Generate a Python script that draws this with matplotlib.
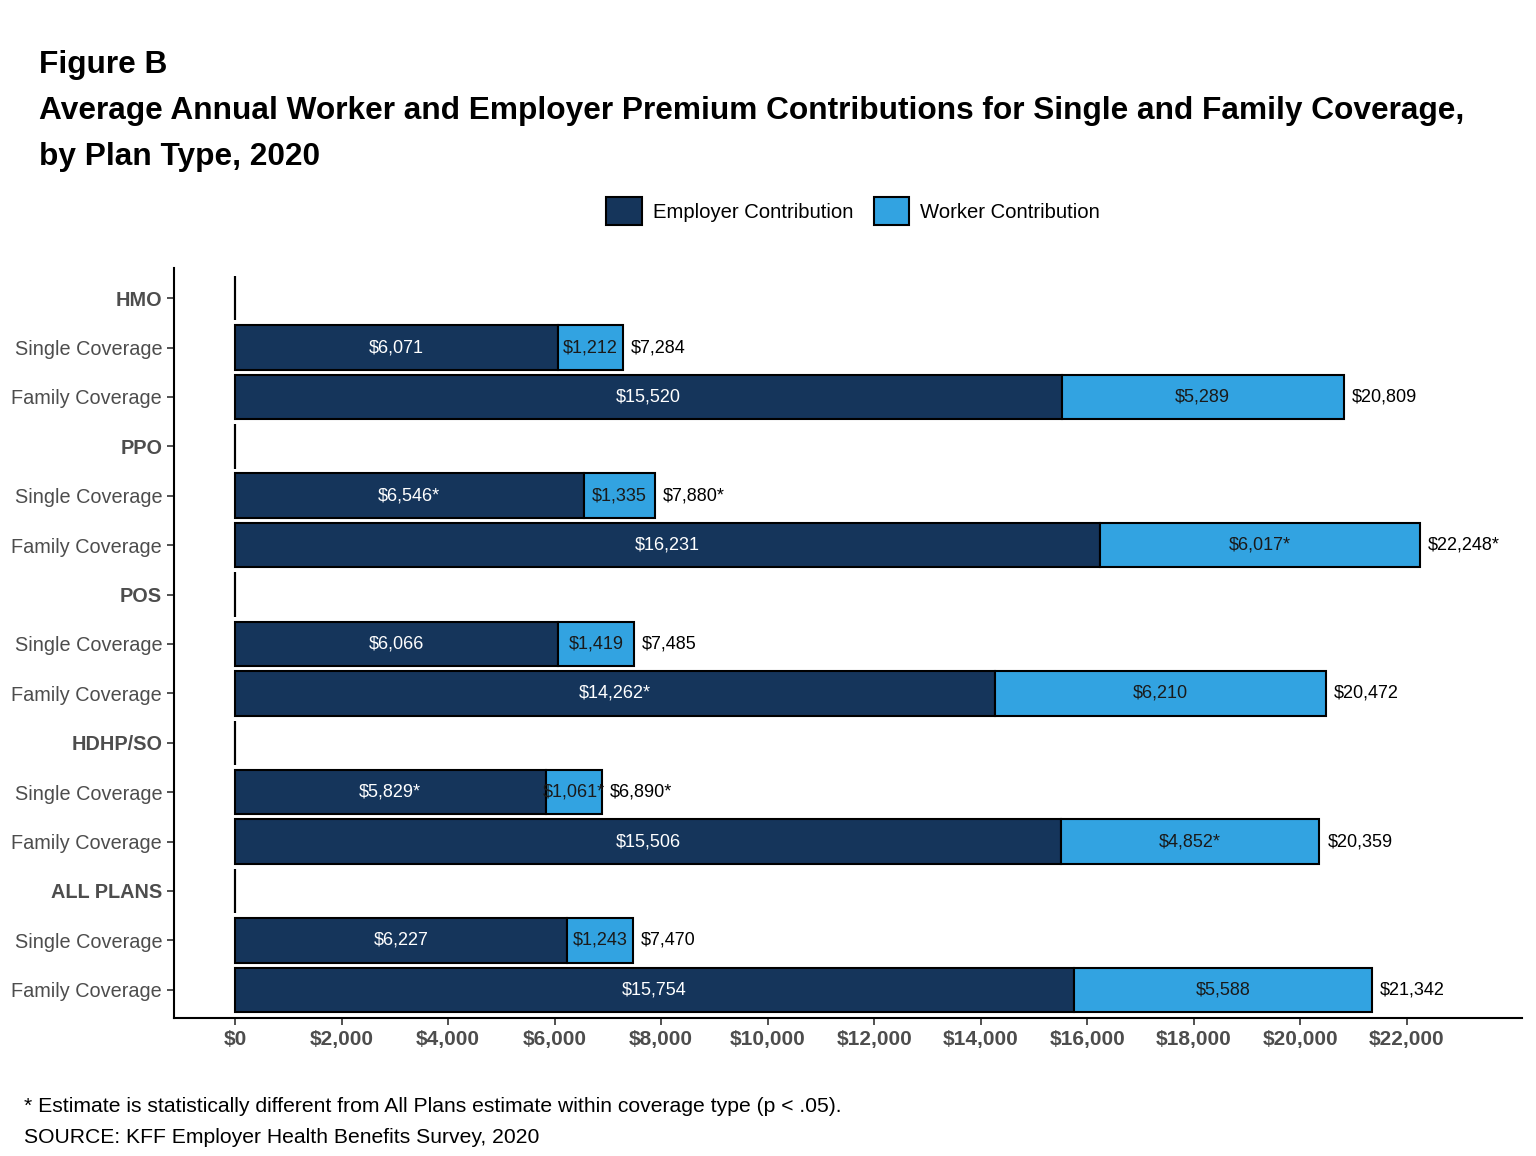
import numpy as np
import matplotlib.pyplot as plt
from matplotlib.patches import Patch

plt.rcParams['font.family'] = ['Liberation Sans', 'DejaVu Sans']

# 数据
rows = ['HMO', 'Single Coverage', 'Family Coverage',
        'PPO', 'Single Coverage', 'Family Coverage',
        'POS', 'Single Coverage', 'Family Coverage',
        'HDHP/SO', 'Single Coverage', 'Family Coverage',
        'ALL PLANS', 'Single Coverage', 'Family Coverage']
is_header = [True, False, False] * 5
employer = [0, 6071, 15520, 0, 6546, 16231, 0, 6066, 14262, 0, 5829, 15506, 0, 6227, 15754]
worker = [0, 1212, 5289, 0, 1335, 6017, 0, 1419, 6210, 0, 1061, 4852, 0, 1243, 5588]
total = [0, 7284, 20809, 0, 7880, 22248, 0, 7485, 20472, 0, 6890, 20359, 0, 7470, 21342]
employer_sig = [False, False, False, False, True, False, False, False, True, False, True, False, False, False, False]
worker_sig = [False, False, False, False, False, True, False, False, False, False, True, True, False, False, False]
total_sig = [False, False, False, False, True, True, False, False, False, False, True, False, False, False, False]

c_emp = '#15355B'
c_wrk = '#32A3E1'

fig = plt.figure(figsize=(15.36, 11.56), dpi=100)
ax = fig.add_axes([0.1133, 0.1194, 0.8776, 0.6488])

y = np.arange(len(rows))
ax.barh(y, employer, height=0.9, color=c_emp, edgecolor='black', linewidth=1.5)
ax.barh(y, worker, left=employer, height=0.9, color=c_wrk, edgecolor='black', linewidth=1.5)

def fmt(v, sig):
    return '${:,}'.format(v) + ('*' if sig else '')

for i in range(len(rows)):
    if is_header[i]:
        continue
    ax.text(employer[i] / 2, y[i], fmt(employer[i], employer_sig[i]),
            ha='center', va='center', color='white', fontsize=13)
    ax.text(employer[i] + worker[i] / 2, y[i], fmt(worker[i], worker_sig[i]),
            ha='center', va='center', color='#1a1a1a', fontsize=13)
    ax.text(total[i] + 150, y[i], fmt(total[i], total_sig[i]),
            ha='left', va='center', color='black', fontsize=13)

ax.set_xlim(-1145, 24160)
ax.set_ylim(14.57, -0.61)
ax.set_xticks(np.arange(0, 22001, 2000))
ax.set_xticklabels(['${:,}'.format(v) for v in range(0, 22001, 2000)],
                   fontsize=15, fontweight='bold', color='#4d4d4d')
ax.set_yticks(y)
ax.set_yticklabels(rows, fontsize=14.3, color='#4d4d4d')
for lbl, h in zip(ax.get_yticklabels(), is_header):
    if h:
        lbl.set_fontweight('bold')

for s in ['top', 'right']:
    ax.spines[s].set_visible(False)
for s in ['left', 'bottom']:
    ax.spines[s].set_linewidth(1.5)
ax.tick_params(axis='both', length=5, width=1.2, color='#333333')

fig.text(0.0254, 0.957, 'Figure B', fontsize=22.8, fontweight='bold', va='top')
fig.text(0.0254, 0.917, 'Average Annual Worker and Employer Premium Contributions for Single and Family Coverage,',
         fontsize=22.8, fontweight='bold', va='top')
fig.text(0.0254, 0.877, 'by Plan Type, 2020', fontsize=22.8, fontweight='bold', va='top')

handles = [Patch(facecolor=c_emp, edgecolor='black', linewidth=1.5, label='Employer Contribution'),
           Patch(facecolor=c_wrk, edgecolor='black', linewidth=1.5, label='Worker Contribution')]
fig.legend(handles=handles, loc='center', bbox_to_anchor=(0.5555, 0.8175), ncol=2,
           frameon=False, fontsize=14.6, handlelength=1.75, handleheight=1.75,
           columnspacing=1.0, handletextpad=0.55)

fig.text(0.0156, 0.0424, '* Estimate is statistically different from All Plans estimate within coverage type (p < .05).',
         fontsize=15.2, va='center')
fig.text(0.0156, 0.0164, 'SOURCE: KFF Employer Health Benefits Survey, 2020', fontsize=15.2, va='center')

fig.savefig('out.png', dpi=100)
